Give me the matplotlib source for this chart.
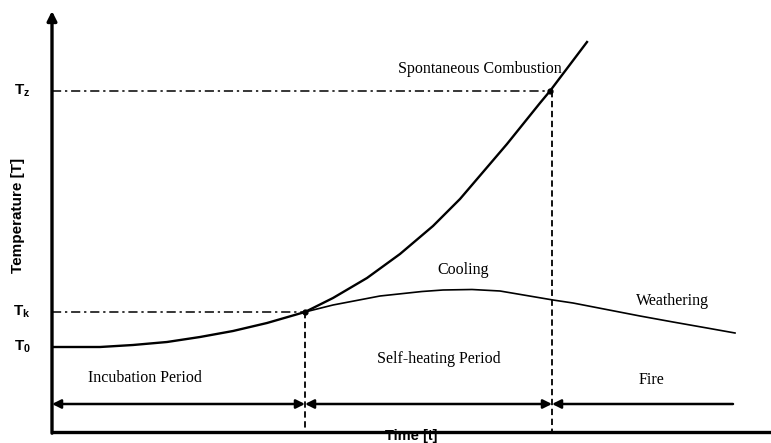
import matplotlib.pyplot as plt

plt.rcParams['mathtext.fontset'] = 'custom'
plt.rcParams['mathtext.rm'] = 'Liberation Sans'
plt.rcParams['mathtext.bf'] = 'Liberation Sans:bold'

# schematic curves (time t, temperature T, arbitrary units)
main_t = [1, 48, 81, 115, 148, 181, 215, 253, 281, 315, 348, 381, 408, 455, 488, 498, 535]
main_T = [85, 85, 87, 90, 95, 101, 109, 120, 134, 154, 178, 206, 233, 288, 329, 341, 390]
cool_t = [253, 281, 328, 370, 391, 420, 448, 501, 521, 588, 621, 655, 683]
cool_T = [120, 127, 136, 140.5, 142, 142.5, 141, 132, 129, 116, 110, 104, 99]

t_k, T_k = 253, 120   # start of self-heating
t_z, T_z = 498, 341   # spontaneous combustion
T_0 = 85
t_end = 681
levels = [T_z, T_k, T_0]
level_names = [r'$\mathbf{T_z}$', r'$\mathbf{T_k}$', r'$\mathbf{T_0}$']

serif = 'Liberation Serif'
sans = 'Liberation Sans'

fig = plt.figure(figsize=(7.71, 4.43), dpi=100)
ax = fig.add_axes([0, 0, 1, 1])
ax.set_xlim(-52, 719)
ax.set_ylim(-11, 432)
ax.axis('off')

# axes
ax.plot([0, 719], [0, 0], color='black', lw=2.4, solid_capstyle='butt')
ax.annotate('', xy=(0, 421), xytext=(0, -1.2),
            arrowprops=dict(arrowstyle='-|>', color='black', lw=2.4,
                            mutation_scale=14, shrinkA=0, shrinkB=0))

# curves
ax.plot(main_t, main_T, color='black', lw=1.7, solid_joinstyle='round')
ax.plot(cool_t, cool_T, color='black', lw=1.2, solid_joinstyle='round')
ax.plot([t_k, t_z], [T_k, T_z], 'o', color='black', ms=3.5)

# guide lines
ax.plot([0, t_k], [T_k, T_k], color='black', lw=1.1, ls=(0, (6, 2.5, 1.5, 2.5)))
ax.plot([0, t_z], [T_z, T_z], color='black', lw=1.1, ls=(0, (6, 2.5, 1.5, 2.5)))
ax.plot([t_k, t_k], [T_k, 0], color='black', lw=1.3, ls=(0, (3.5, 2)))
ax.plot([t_z + 2, t_z + 2], [T_z, 0], color='black', lw=1.3, ls=(0, (3.5, 2)))

# period arrows
arrow_y = 28
for a, b in [(0, t_k), (t_k, t_z + 2)]:
    ax.annotate('', xy=(b, arrow_y), xytext=(a, arrow_y),
                arrowprops=dict(arrowstyle='<|-|>', color='black', lw=1.8,
                                mutation_scale=13, shrinkA=0, shrinkB=0))
ax.annotate('', xy=(t_z + 2, arrow_y), xytext=(t_end, arrow_y),
            arrowprops=dict(arrowstyle='-|>', color='black', lw=1.8,
                            mutation_scale=13, shrinkA=0, shrinkB=0))

# labels
ax.text(428, 363, 'Spontaneous Combustion', family=serif, fontsize=11.5, ha='center', va='center')
ax.text(411, 162, 'Cooling', family=serif, fontsize=11.5, ha='center', va='center')
ax.text(620, 131, 'Weathering', family=serif, fontsize=11.5, ha='center', va='center')
ax.text(93, 54, 'Incubation Period', family=serif, fontsize=11.5, ha='center', va='center')
ax.text(387, 73, 'Self-heating Period', family=serif, fontsize=11.5, ha='center', va='center')
ax.text(599, 52, 'Fire', family=serif, fontsize=11.5, ha='center', va='center')

ax.text(359, -4, 'Time [t]', family=sans, fontsize=10.5, fontweight='bold', ha='center', va='center')
ax.text(-34, 217, 'Temperature [T]', family=sans, fontsize=11, fontweight='bold',
        rotation=90, ha='center', va='center')
for lv, name in zip(levels, level_names):
    ax.text(-30, lv, name, fontsize=11, ha='center', va='center')

fig.savefig('out.png', dpi=100)
